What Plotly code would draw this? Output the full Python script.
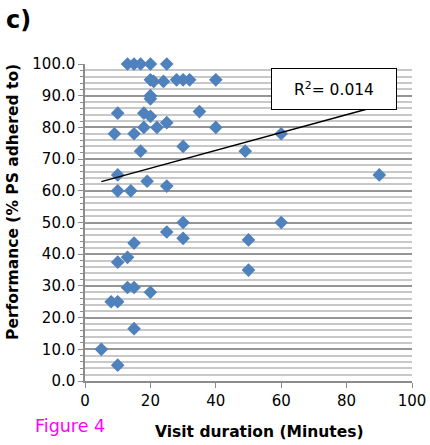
import plotly.graph_objects as go

visit_minutes = [13, 15, 17, 20, 25,
                 20, 21, 24, 28, 30, 32, 40,
                 20, 20,
                 10, 18, 20, 35,
                 9, 15, 18, 22, 25, 40, 60,
                 17, 30, 49,
                 10, 10, 14, 19, 25, 90,
                 30, 60, 25, 30, 50, 15,
                 50, 13, 10,
                 13, 15, 20, 8, 10,
                 15, 5, 10]
performance = [100, 100, 100, 100, 100,
               95, 94.5, 94.5, 95, 95, 95, 95,
               90, 89,
               84.5, 84.5, 83.5, 85,
               78, 78, 80, 80, 81.5, 80, 78,
               72.5, 74, 72.5,
               65, 60, 60, 63, 61.5, 65,
               50, 50, 47, 45, 44.5, 43.5,
               35, 39, 37.5,
               29.5, 29.5, 28, 25, 25,
               16.5, 10, 5]

trend_x = [5, 90]
trend_y = [62.9, 86.8]
r_squared_label = "R<sup>2</sup>= 0.014"
y_ticks = [0, 10, 20, 30, 40, 50, 60, 70, 80, 90, 100]
x_ticks = [0, 20, 40, 60, 80, 100]

FONT = "DejaVu Sans"

fig = go.Figure()
fig.add_trace(go.Scatter(
    x=visit_minutes, y=performance, mode="markers",
    marker=dict(symbol="diamond", size=10.5, color="#4F81BD", line=dict(width=0)),
    showlegend=False, cliponaxis=False))
fig.add_trace(go.Scatter(
    x=trend_x, y=trend_y, mode="lines",
    line=dict(color="black", width=1.5), showlegend=False))

fig.update_layout(
    width=430, height=445,
    margin=dict(l=85, r=18, t=64, b=64, autoexpand=False),
    paper_bgcolor="white", plot_bgcolor="white",
    font=dict(family=FONT, color="black", size=15),
    xaxis=dict(range=[0, 100], tickvals=x_ticks, ticks="outside", ticklen=5,
               tickcolor="#8c8c8c", showline=True, linecolor="#8c8c8c", linewidth=1.5,
               showgrid=False, zeroline=False, automargin=False,
               tickfont=dict(family=FONT, size=15)),
    yaxis=dict(range=[0, 100], tickvals=y_ticks, tickformat=".1f", ticks="outside",
               ticklen=5, tickcolor="#8c8c8c", showline=True, linecolor="#8c8c8c",
               linewidth=1.5, showgrid=True, gridcolor="#959595", gridwidth=1.5,
               zeroline=False, automargin=False, tickfont=dict(family=FONT, size=15),
               minor=dict(dtick=2, showgrid=True, gridcolor="#c8c8c8", gridwidth=1.7,
                          ticks="outside", ticklen=3, tickcolor="#8c8c8c")),
    annotations=[
        dict(text="<b>Visit duration (Minutes)</b>", xref="paper", yref="paper",
             x=0.535, y=-0.161, xanchor="center", yanchor="middle", showarrow=False,
             font=dict(family=FONT, size=15.5)),
        dict(text="<b>Performance (% PS adhered to)</b>", xref="paper", yref="paper",
             x=-0.22, y=0.565, xanchor="center", yanchor="middle", textangle=-90,
             showarrow=False, font=dict(family=FONT, size=15.5)),
        dict(text="<b>c)</b>", xref="paper", yref="paper", x=-0.202, y=1.139,
             xanchor="center", yanchor="middle", showarrow=False,
             font=dict(family=FONT, size=24)),
        dict(text="Figure 4", xref="paper", yref="paper", x=-0.046, y=-0.142,
             xanchor="center", yanchor="middle", showarrow=False,
             font=dict(family=FONT, size=17.5, color="#ff00ff")),
        dict(text=r_squared_label, xref="paper", yref="paper", x=0.760, y=0.920,
             xanchor="center", yanchor="middle", showarrow=False,
             width=122, height=38, bgcolor="white", bordercolor="black",
             borderwidth=1, font=dict(family=FONT, size=15.5)),
    ],
)

fig.write_html("out.html", config={"responsive": False, "displayModeBar": False},
               post_script="document.body.style.margin='0';document.body.style.padding='0';document.body.style.overflow='hidden';")
